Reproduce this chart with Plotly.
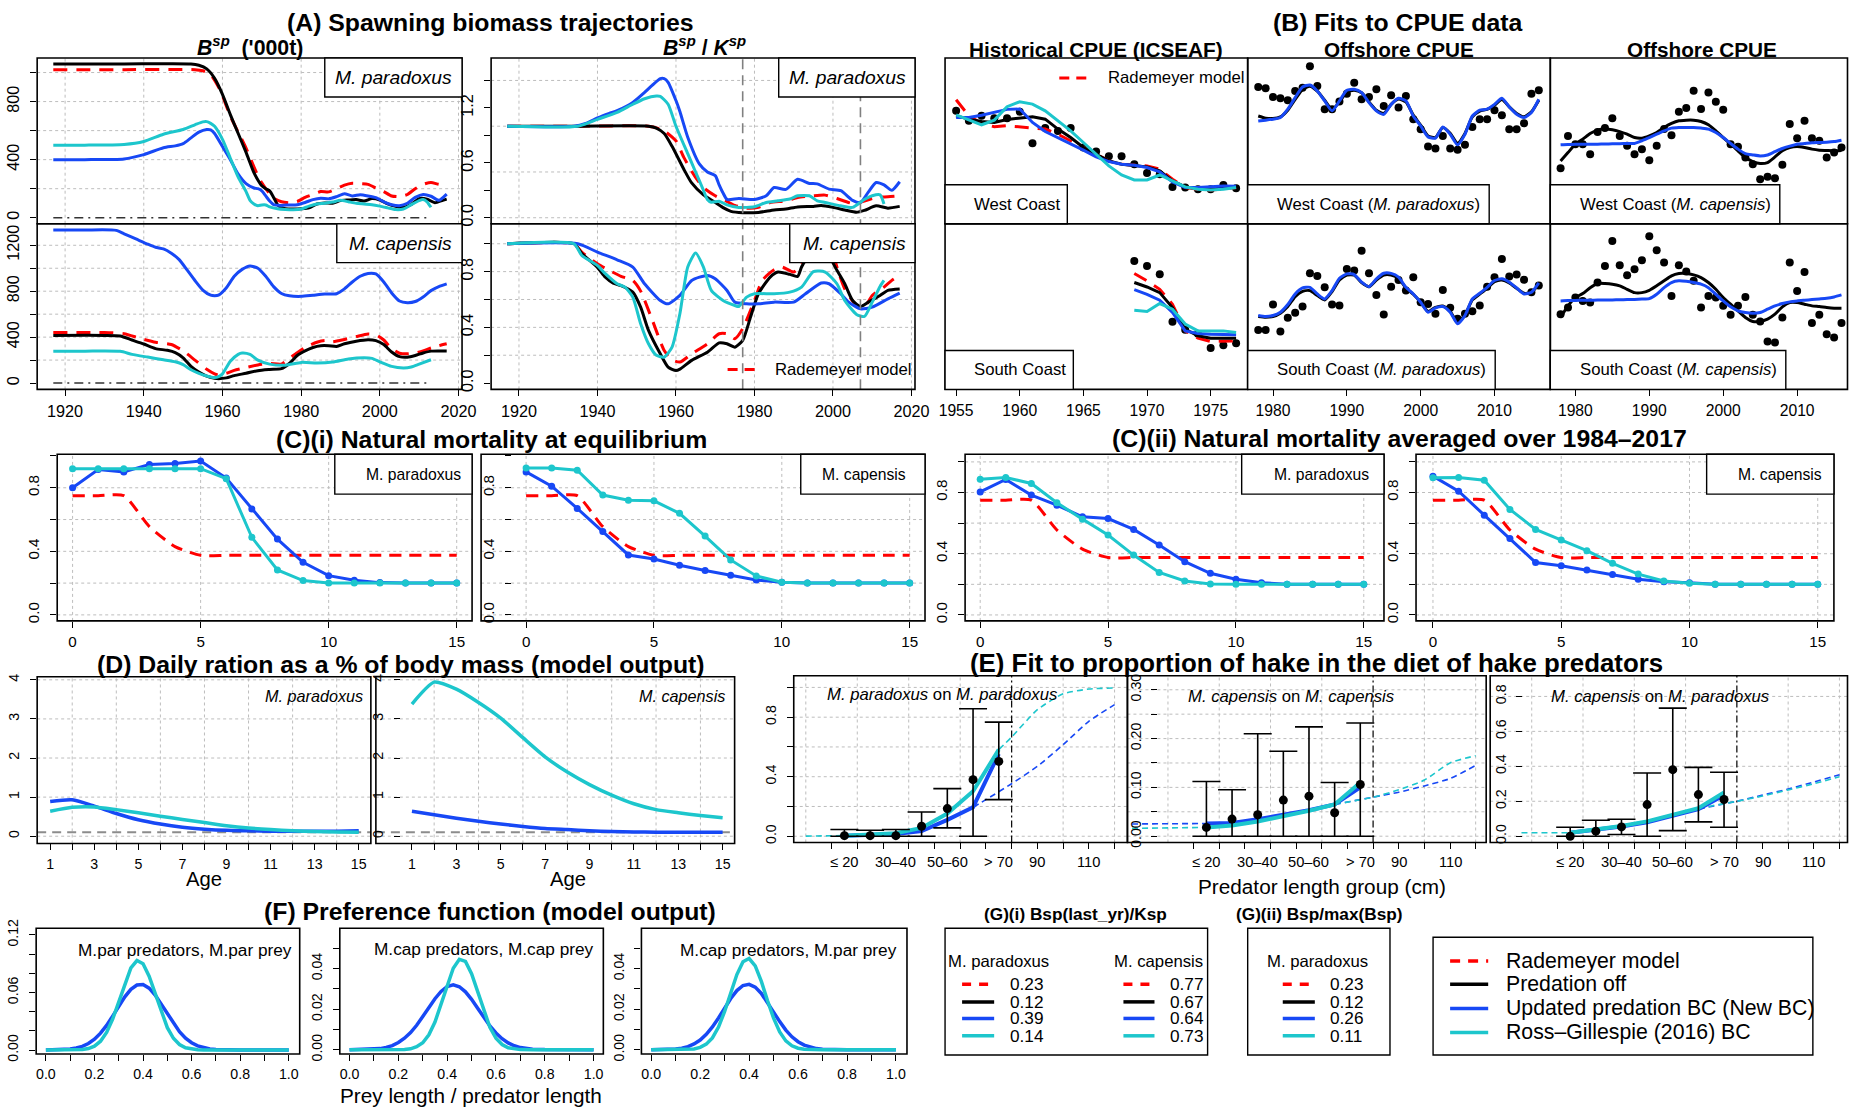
import plotly.graph_objects as go

# Layout positions in this file are given in target-image pixels (1854 x 1111).  The page adds a
# body margin and is captured at a slight scale, so positions are mapped through these factors.
W, H = 1854, 1111
PAGE_MARGIN = 8
SX, SY = 0.9872, 0.9866
FW, FH = 1862, 1110
RED, BLACK, BLUE, CYAN = "#FF0000", "#000000", "#1748F5", "#1DC6CC"
GRID = "#BDBDBD"
FONT = "Liberation Sans, Arial, sans-serif"

# ---------------- (A) spawning biomass, '000 t  (year, value) ----------------
PAR_BSP_RED = [(1917, 1020), (1935, 1020), (1953, 1020), (1955, 1012), (1957, 985), (1959, 900), (1960, 840),
               (1962, 700), (1964, 590), (1966, 480), (1968, 350), (1969, 290), (1970, 240), (1971, 200),
               (1972, 165), (1973, 135), (1975, 110), (1977, 103), (1979, 112), (1981, 140), (1983, 160),
               (1985, 180), (1987, 178), (1989, 200), (1991, 225), (1993, 238), (1995, 235), (1997, 230),
               (1999, 205), (2001, 180), (2003, 150), (2005, 145), (2007, 160), (2009, 200), (2011, 230),
               (2013, 243), (2015, 230), (2017, 225)]
PAR_BSP_BLACK = [(1917, 1059), (1935, 1059), (1952, 1059), (1954, 1050), (1956, 1025), (1958, 960), (1960, 850),
                 (1962, 710), (1964, 580), (1966, 450), (1968, 310), (1969, 260), (1970, 220), (1971, 200),
                 (1972, 185), (1973, 140), (1974, 90), (1975, 70), (1976, 62), (1978, 60), (1980, 62), (1982, 68),
                 (1984, 95), (1986, 102), (1988, 100), (1990, 118), (1992, 122), (1994, 125), (1996, 115),
                 (1998, 132), (2000, 122), (2002, 95), (2004, 78), (2006, 70), (2008, 92), (2010, 132),
                 (2012, 128), (2014, 103), (2016, 120), (2017, 128)]
PAR_BSP_BLUE = [(1917, 400), (1925, 400), (1935, 405), (1940, 435), (1945, 482), (1948, 495), (1950, 510),
                (1952, 550), (1954, 590), (1956, 608), (1957, 605), (1958, 580), (1960, 490), (1962, 400),
                (1964, 300), (1966, 235), (1968, 205), (1969, 200), (1970, 185), (1971, 150), (1972, 115),
                (1973, 90), (1975, 85), (1977, 88), (1979, 90), (1981, 105), (1983, 125), (1985, 135),
                (1987, 130), (1989, 145), (1991, 165), (1993, 150), (1995, 158), (1997, 150), (1999, 138),
                (2001, 110), (2003, 90), (2005, 83), (2007, 100), (2009, 140), (2011, 160), (2013, 148),
                (2015, 120), (2017, 163)]
PAR_BSP_CYAN = [(1917, 500), (1925, 500), (1935, 505), (1940, 525), (1945, 575), (1950, 608), (1953, 640),
                (1955, 660), (1956, 662), (1957, 650), (1958, 630), (1960, 540), (1962, 410), (1964, 280),
                (1966, 180), (1967, 120), (1968, 95), (1969, 83), (1970, 88), (1971, 88), (1972, 75),
                (1974, 62), (1976, 57), (1978, 55), (1980, 60), (1982, 80), (1984, 95), (1986, 100),
                (1988, 108), (1990, 120), (1992, 110), (1994, 100), (1996, 95), (1998, 90), (2000, 80),
                (2002, 68), (2004, 56), (2006, 60), (2008, 90), (2010, 118), (2011, 125), (2012, 110),
                (2013, 72)]
CAP_BSP_RED = [(1917, 440), (1930, 440), (1935, 430), (1939, 390), (1943, 355), (1947, 336), (1950, 280),
               (1953, 200), (1956, 120), (1958, 80), (1959, 70), (1961, 85), (1963, 110), (1966, 135),
               (1969, 158), (1972, 170), (1975, 165), (1977, 215), (1979, 265), (1981, 310), (1984, 355),
               (1986, 370), (1988, 360), (1991, 380), (1994, 405), (1997, 428), (1999, 420), (2001, 375),
               (2003, 300), (2005, 260), (2007, 255), (2009, 262), (2011, 280), (2013, 305), (2015, 325),
               (2017, 342)]
CAP_BSP_BLACK = [(1917, 415), (1930, 415), (1934, 410), (1937, 375), (1940, 340), (1943, 300), (1946, 285),
                 (1948, 265), (1950, 220), (1952, 145), (1954, 95), (1956, 60), (1958, 42), (1959, 38),
                 (1961, 45), (1963, 65), (1966, 85), (1969, 108), (1972, 118), (1975, 125), (1977, 170),
                 (1979, 240), (1981, 280), (1983, 310), (1985, 325), (1987, 325), (1989, 318), (1991, 342),
                 (1994, 365), (1997, 378), (1999, 370), (2001, 335), (2003, 270), (2005, 230), (2007, 225),
                 (2009, 240), (2011, 262), (2013, 278), (2015, 280), (2017, 280)]
CAP_BSP_BLUE = [(1917, 1333), (1925, 1333), (1933, 1330), (1935, 1300), (1938, 1255), (1941, 1210),
                (1943, 1183), (1945, 1168), (1947, 1130), (1949, 1075), (1951, 985), (1953, 893), (1955, 810),
                (1957, 765), (1958, 760), (1959, 765), (1961, 830), (1963, 930), (1965, 990), (1967, 1020),
                (1969, 1000), (1971, 930), (1973, 840), (1975, 780), (1977, 760), (1980, 755), (1983, 765),
                (1986, 775), (1989, 778), (1991, 820), (1993, 880), (1995, 930), (1997, 955), (1999, 950),
                (2001, 880), (2003, 785), (2005, 715), (2007, 700), (2009, 710), (2011, 750), (2013, 805),
                (2015, 840), (2017, 864)]
CAP_BSP_CYAN = [(1917, 278), (1925, 278), (1934, 276), (1937, 250), (1941, 226), (1945, 203), (1948, 185),
                (1950, 160), (1952, 116), (1954, 85), (1956, 62), (1958, 48), (1959, 55), (1960, 80),
                (1962, 190), (1964, 250), (1965, 262), (1967, 250), (1969, 200), (1972, 165), (1976, 155),
                (1980, 180), (1984, 175), (1988, 183), (1992, 210), (1996, 220), (1998, 215), (2000, 185),
                (2003, 145), (2006, 132), (2008, 140), (2010, 165), (2013, 203)]
ZERO_LINE_YEARS = [1917, 2013]

# ---------------- (A) Bsp / Ksp ----------------
PAR_DEP_RED = [(1917, 1.0), (1935, 1.0), (1953, 1.0), (1956, 0.97), (1957, 0.95), (1960, 0.84), (1962, 0.66),
               (1965, 0.44), (1967, 0.33), (1970, 0.24), (1972, 0.2), (1975, 0.135), (1978, 0.105),
               (1981, 0.113), (1984, 0.165), (1988, 0.185), (1991, 0.22), (1995, 0.24), (1998, 0.247),
               (2001, 0.21), (2005, 0.156), (2007, 0.17), (2011, 0.222), (2014, 0.229), (2017, 0.24)]
PAR_DEP_BLACK = [(1917, 1.0), (1935, 1.0), (1953, 1.0), (1955, 0.98), (1957, 0.92), (1959, 0.78), (1962, 0.53),
                 (1964, 0.38), (1967, 0.25), (1969, 0.195), (1972, 0.11), (1974, 0.07), (1977, 0.055),
                 (1981, 0.058), (1985, 0.085), (1988, 0.095), (1991, 0.118), (1995, 0.124), (1997, 0.133),
                 (2000, 0.113), (2003, 0.085), (2006, 0.06), (2008, 0.08), (2011, 0.13), (2014, 0.105),
                 (2017, 0.124)]
PAR_DEP_BLUE = [(1917, 1.0), (1934, 1.0), (1937, 1.03), (1940, 1.09), (1943, 1.14), (1945, 1.17), (1949, 1.26),
                (1952, 1.37), (1954, 1.45), (1956, 1.52), (1957, 1.52), (1958, 1.48), (1960, 1.28),
                (1961, 1.16), (1963, 0.88), (1966, 0.585), (1968, 0.5), (1970, 0.46), (1971, 0.36),
                (1972, 0.27), (1973, 0.2), (1976, 0.21), (1980, 0.2), (1983, 0.24), (1985, 0.33), (1988, 0.31),
                (1991, 0.42), (1994, 0.375), (1996, 0.37), (1999, 0.313), (2002, 0.295), (2005, 0.19),
                (2007, 0.165), (2009, 0.28), (2011, 0.385), (2013, 0.36), (2015, 0.3), (2017, 0.393)]
PAR_DEP_CYAN = [(1917, 1.0), (1935, 1.0), (1940, 1.075), (1945, 1.15), (1949, 1.24), (1952, 1.3), (1955, 1.33),
                (1956, 1.325), (1958, 1.24), (1960, 1.0), (1963, 0.7), (1965, 0.5), (1967, 0.3), (1968, 0.2),
                (1969, 0.17), (1971, 0.18), (1973, 0.14), (1976, 0.113), (1980, 0.12), (1983, 0.167),
                (1986, 0.185), (1989, 0.205), (1991, 0.24), (1994, 0.24), (1996, 0.185), (1998, 0.167),
                (2002, 0.13), (2005, 0.113), (2008, 0.2), (2010, 0.24), (2012, 0.25), (2013, 0.15)]
CAP_DEP_RED = [(1917, 1.0), (1934, 1.0), (1936, 0.94), (1940, 0.856), (1943, 0.809), (1946, 0.766),
               (1949, 0.737), (1951, 0.66), (1954, 0.45), (1957, 0.234), (1959, 0.167), (1961, 0.151),
               (1964, 0.21), (1968, 0.282), (1971, 0.354), (1973, 0.354), (1975, 0.318), (1977, 0.39),
               (1980, 0.593), (1982, 0.737), (1985, 0.813), (1987, 0.833), (1990, 0.797), (1992, 0.856),
               (1994, 0.95), (1996, 1.06), (1998, 1.1), (2000, 0.95), (2001, 0.833), (2003, 0.677),
               (2006, 0.557), (2008, 0.545), (2010, 0.629), (2013, 0.689), (2015, 0.737), (2017, 0.773)]
CAP_DEP_BLACK = [(1917, 1.0), (1934, 1.0), (1936, 0.93), (1940, 0.83), (1942, 0.76), (1944, 0.718), (1946, 0.7),
                 (1949, 0.653), (1951, 0.545), (1953, 0.378), (1956, 0.21), (1958, 0.115), (1960, 0.09),
                 (1961, 0.1), (1964, 0.163), (1968, 0.222), (1971, 0.289), (1973, 0.282), (1975, 0.258),
                 (1977, 0.306), (1979, 0.474), (1981, 0.641), (1984, 0.761), (1986, 0.797), (1989, 0.78),
                 (1991, 0.766), (1992, 0.833), (1994, 0.93), (1996, 1.04), (1998, 1.08), (1999, 0.98),
                 (2000, 0.864), (2003, 0.713), (2005, 0.593), (2007, 0.55), (2009, 0.581), (2012, 0.629),
                 (2014, 0.665), (2017, 0.675)]
CAP_DEP_BLUE = [(1917, 1.0), (1935, 1.0), (1940, 0.94), (1945, 0.885), (1949, 0.833), (1952, 0.713),
                (1956, 0.593), (1958, 0.569), (1961, 0.629), (1964, 0.737), (1968, 0.773), (1970, 0.749),
                (1973, 0.665), (1975, 0.581), (1978, 0.569), (1981, 0.569), (1985, 0.581), (1990, 0.581),
                (1993, 0.641), (1997, 0.718), (1999, 0.713), (2002, 0.641), (2004, 0.581), (2007, 0.533),
                (2010, 0.545), (2014, 0.605), (2017, 0.646)]
CAP_DEP_CYAN = [(1917, 1.0), (1934, 1.0), (1936, 0.916), (1940, 0.844), (1942, 0.785), (1945, 0.713),
                (1947, 0.689), (1949, 0.617), (1951, 0.426), (1953, 0.282), (1955, 0.199), (1957, 0.187),
                (1959, 0.258), (1961, 0.498), (1963, 0.833), (1965, 0.933), (1967, 0.833), (1969, 0.665),
                (1972, 0.593), (1975, 0.557), (1976, 0.55), (1978, 0.617), (1980, 0.641), (1985, 0.641),
                (1989, 0.653), (1992, 0.689), (1995, 0.8), (1998, 0.797), (2001, 0.713), (2003, 0.593),
                (2006, 0.493), (2008, 0.478), (2010, 0.581), (2012, 0.694), (2013, 0.737)]
DEP_MARK_YEARS = [1977, 2007]

# ---------------- (B) CPUE indices (relative scale) ----------------
HIST_WC_YEARS = [1955, 1956, 1957, 1958, 1959, 1960, 1961, 1962, 1963, 1964, 1965, 1966, 1967, 1968, 1969,
                 1970, 1971, 1972, 1973, 1974, 1975, 1976, 1977]
HIST_WC_OBS = [0.681, 0.621, 0.651, 0.637, 0.637, 0.675, 0.486, 0.577, 0.56, 0.577, 0.46, 0.435, 0.407,
               0.407, 0.359, 0.306, 0.298, 0.222, 0.218, 0.208, 0.208, 0.234, 0.214]
HIST_WC_RED = [0.748, 0.651, 0.605, 0.585, 0.591, 0.585, 0.581, 0.571, 0.54, 0.5, 0.46, 0.415, 0.379, 0.359,
               0.355, 0.349, 0.329, 0.268, 0.218, 0.208, 0.204, 0.208, 0.218]
HIST_WC_BLACK = [0.651, 0.631, 0.617, 0.611, 0.629, 0.637, 0.645, 0.631, 0.571, 0.52, 0.46, 0.419, 0.379,
                 0.359, 0.349, 0.343, 0.319, 0.258, 0.222, 0.212, 0.214, 0.214, 0.222]
HIST_WC_BLUE = [0.641, 0.641, 0.655, 0.671, 0.69, 0.692, 0.611, 0.556, 0.52, 0.484, 0.444, 0.403, 0.375,
                0.359, 0.353, 0.339, 0.313, 0.252, 0.218, 0.218, 0.224, 0.228, 0.226]
HIST_WC_CYAN = [0.657, 0.625, 0.597, 0.625, 0.706, 0.736, 0.722, 0.681, 0.621, 0.56, 0.49, 0.419, 0.349,
                0.294, 0.264, 0.264, 0.294, 0.258, 0.222, 0.208, 0.204, 0.208, 0.218]
HIST_SC_YEARS = [1969, 1970, 1971, 1972, 1973, 1974, 1975, 1976, 1977]
HIST_SC_OBS = [0.775, 0.745, 0.695, 0.408, 0.36, 0.335, 0.249, 0.267, 0.279]
HIST_SC_RED = [0.699, 0.655, 0.604, 0.514, 0.353, 0.309, 0.289, 0.289, 0.293]
HIST_SC_BLACK = [0.645, 0.618, 0.584, 0.494, 0.363, 0.323, 0.309, 0.309, 0.309]
HIST_SC_BLUE = [0.602, 0.574, 0.538, 0.464, 0.353, 0.337, 0.333, 0.333, 0.329]
HIST_SC_CYAN = [0.478, 0.47, 0.518, 0.484, 0.394, 0.353, 0.353, 0.353, 0.343]

OFF_YEARS = [1978, 1979, 1980, 1981, 1982, 1983, 1984, 1985, 1986, 1987, 1988, 1989, 1990, 1991, 1992, 1993,
             1994, 1995, 1996, 1997, 1998, 1999, 2000, 2001, 2002, 2003, 2004, 2005, 2006, 2007, 2008, 2009,
             2010, 2011, 2012, 2013, 2014, 2015, 2016]
WC_PAR_OBS = [0.825, 0.817, 0.765, 0.757, 0.745, 0.801, 0.821, 0.95, 0.831, 0.691, 0.691, 0.737, 0.785, 0.851,
              0.751, 0.765, 0.811, 0.711, 0.775, 0.701, 0.771, 0.631, 0.57, 0.466, 0.454, 0.53, 0.454, 0.446,
              0.476, 0.584, 0.631, 0.631, 0.685, 0.655, 0.57, 0.57, 0.606, 0.785, 0.805]
WC_PAR_BLACK = [0.65, 0.637, 0.635, 0.645, 0.685, 0.75, 0.81, 0.83, 0.8, 0.745, 0.69, 0.735, 0.795, 0.805,
                0.79, 0.735, 0.685, 0.665, 0.72, 0.752, 0.735, 0.655, 0.595, 0.53, 0.52, 0.58, 0.545, 0.485,
                0.545, 0.645, 0.68, 0.69, 0.715, 0.75, 0.705, 0.665, 0.645, 0.675, 0.745]
WC_PAR_BLUE = [0.62, 0.625, 0.631, 0.641, 0.691, 0.761, 0.825, 0.837, 0.801, 0.741, 0.681, 0.741, 0.805, 0.811,
               0.791, 0.731, 0.681, 0.66, 0.72, 0.757, 0.741, 0.65, 0.59, 0.524, 0.516, 0.584, 0.54, 0.476,
               0.54, 0.65, 0.685, 0.691, 0.72, 0.757, 0.705, 0.66, 0.641, 0.671, 0.751]
SC_PAR_OBS = [0.359, 0.359, 0.512, 0.349, 0.432, 0.462, 0.5, 0.701, 0.685, 0.616, 0.512, 0.506, 0.727, 0.717,
              0.837, 0.701, 0.57, 0.452, 0.62, 0.66, 0.596, 0.677, 0.526, 0.516, 0.456, 0.6, 0.492, 0.426,
              0.456, 0.472, 0.506, 0.62, 0.677, 0.787, 0.681, 0.693, 0.661, 0.586, 0.627]
SC_PAR_BLACK = [0.44, 0.436, 0.44, 0.46, 0.5, 0.56, 0.592, 0.596, 0.566, 0.54, 0.59, 0.66, 0.69, 0.69, 0.645,
                0.62, 0.66, 0.69, 0.69, 0.67, 0.612, 0.574, 0.526, 0.47, 0.495, 0.503, 0.47, 0.405, 0.45, 0.54,
                0.575, 0.61, 0.65, 0.66, 0.643, 0.61, 0.58, 0.585, 0.635]
SC_PAR_BLUE = [0.446, 0.44, 0.446, 0.466, 0.512, 0.576, 0.612, 0.616, 0.576, 0.546, 0.596, 0.671, 0.697, 0.693,
               0.647, 0.62, 0.667, 0.701, 0.7, 0.677, 0.616, 0.576, 0.526, 0.466, 0.492, 0.5, 0.466, 0.396,
               0.446, 0.546, 0.58, 0.616, 0.657, 0.667, 0.647, 0.612, 0.576, 0.586, 0.643]
WC_CAP_OBS = [0.335, 0.53, 0.48, 0.48, 0.419, 0.554, 0.577, 0.637, 0.53, 0.47, 0.419, 0.45, 0.383, 0.47, 0.571,
              0.534, 0.675, 0.698, 0.802, 0.692, 0.792, 0.736, 0.688, 0.48, 0.464, 0.399, 0.359, 0.268, 0.284,
              0.274, 0.355, 0.601, 0.516, 0.621, 0.516, 0.5, 0.399, 0.429, 0.46]
WC_CAP_BLACK = [0.379, 0.429, 0.48, 0.51, 0.544, 0.565, 0.571, 0.567, 0.556, 0.54, 0.52, 0.516, 0.53, 0.55,
                0.581, 0.605, 0.621, 0.625, 0.625, 0.617, 0.597, 0.56, 0.52, 0.48, 0.44, 0.399, 0.375, 0.363,
                0.369, 0.403, 0.44, 0.46, 0.466, 0.46, 0.45, 0.444, 0.442, 0.44, 0.442]
WC_CAP_BLUE = [0.476, 0.478, 0.479, 0.48, 0.48, 0.48, 0.481, 0.482, 0.483, 0.484, 0.484, 0.5, 0.52, 0.54, 0.56,
               0.577, 0.581, 0.581, 0.581, 0.577, 0.571, 0.55, 0.52, 0.484, 0.45, 0.423, 0.415, 0.409, 0.415,
               0.435, 0.454, 0.468, 0.48, 0.484, 0.488, 0.49, 0.492, 0.496, 0.504]
SC_CAP_OBS = [0.454, 0.494, 0.554, 0.534, 0.524, 0.645, 0.745, 0.896, 0.749, 0.689, 0.725, 0.779, 0.924, 0.839,
              0.765, 0.564, 0.749, 0.711, 0.655, 0.494, 0.564, 0.554, 0.504, 0.45, 0.504, 0.558, 0.45, 0.41,
              0.289, 0.283, 0.434, 0.765, 0.594, 0.709, 0.4, 0.45, 0.333, 0.313, 0.4]
SC_CAP_BLACK = [0.434, 0.504, 0.554, 0.578, 0.614, 0.639, 0.639, 0.635, 0.625, 0.604, 0.584, 0.584, 0.598,
                0.625, 0.655, 0.685, 0.699, 0.699, 0.691, 0.675, 0.645, 0.604, 0.554, 0.514, 0.474, 0.434,
                0.41, 0.41, 0.424, 0.454, 0.498, 0.524, 0.524, 0.514, 0.504, 0.5, 0.494, 0.49, 0.49]
SC_CAP_BLUE = [0.534, 0.536, 0.537, 0.538, 0.538, 0.539, 0.54, 0.54, 0.541, 0.542, 0.543, 0.545, 0.548, 0.574,
               0.614, 0.645, 0.655, 0.652, 0.645, 0.635, 0.614, 0.574, 0.534, 0.498, 0.474, 0.464, 0.46, 0.464,
               0.484, 0.504, 0.518, 0.528, 0.534, 0.538, 0.542, 0.546, 0.55, 0.558, 0.57]

# ---------------- (C) natural mortality at age ----------------
M_AGES = [0, 1, 2, 3, 4, 5, 6, 7, 8, 9, 10, 11, 12, 13, 14, 15]
M_RADEMEYER = [0.75, 0.75, 0.75, 0.555, 0.43, 0.375, 0.375, 0.375, 0.375, 0.375, 0.375, 0.375, 0.375, 0.375,
               0.375, 0.375]
MEQ_PAR_BLUE = [0.8, 0.915, 0.9, 0.947, 0.953, 0.968, 0.861, 0.666, 0.477, 0.331, 0.247, 0.218, 0.203, 0.2, 0.2, 0.2]
MEQ_PAR_CYAN = [0.92, 0.92, 0.92, 0.92, 0.92, 0.92, 0.857, 0.488, 0.283, 0.216, 0.2, 0.2, 0.2, 0.2, 0.2, 0.2]
MEQ_CAP_BLUE = [0.9, 0.81, 0.67, 0.524, 0.377, 0.352, 0.312, 0.279, 0.249, 0.22, 0.205, 0.2, 0.2, 0.2, 0.2, 0.2]
MEQ_CAP_CYAN = [0.925, 0.925, 0.91, 0.754, 0.722, 0.718, 0.639, 0.496, 0.346, 0.245, 0.205, 0.2, 0.2, 0.2, 0.2, 0.2]
MAV_PAR_BLUE = [0.804, 0.885, 0.783, 0.717, 0.641, 0.63, 0.559, 0.457, 0.348, 0.272, 0.233, 0.211, 0.2, 0.2, 0.2, 0.2]
MAV_PAR_CYAN = [0.887, 0.898, 0.859, 0.733, 0.626, 0.522, 0.391, 0.278, 0.222, 0.202, 0.2, 0.2, 0.2, 0.2, 0.2, 0.2]
MAV_CAP_BLUE = [0.907, 0.809, 0.652, 0.5, 0.343, 0.322, 0.293, 0.265, 0.233, 0.217, 0.211, 0.2, 0.2, 0.2, 0.2, 0.2]
MAV_CAP_CYAN = [0.896, 0.898, 0.88, 0.689, 0.559, 0.489, 0.42, 0.337, 0.267, 0.222, 0.207, 0.2, 0.2, 0.2, 0.2, 0.2]

# ---------------- (D) daily ration, % body mass ----------------
RATION_AGES = [1, 2, 3, 4, 5, 6, 7, 8, 9, 10, 11, 12, 13, 14, 15]
RATION_PAR_BLUE = [0.89, 0.93, 0.77, 0.58, 0.42, 0.31, 0.23, 0.18, 0.15, 0.14, 0.13, 0.13, 0.13, 0.13, 0.14]
RATION_PAR_CYAN = [0.64, 0.74, 0.75, 0.68, 0.6, 0.51, 0.43, 0.35, 0.27, 0.21, 0.17, 0.14, 0.12, 0.11, 0.1]
RATION_CAP_BLUE = [0.64, 0.55, 0.46, 0.38, 0.31, 0.25, 0.2, 0.17, 0.14, 0.12, 0.11, 0.1, 0.1, 0.1, 0.1]
RATION_CAP_CYAN = [3.38, 3.94, 3.76, 3.42, 3.02, 2.52, 2.03, 1.64, 1.32, 1.05, 0.83, 0.68, 0.6, 0.53, 0.47]
RATION_REF = 0.1

# ---------------- (E) proportion of hake in diet ----------------
LEN_GROUP_MID = [15, 25, 35, 45, 55, 65, 75]
LEN_TICKS = [10, 20, 30, 40, 50, 60, 70, 80, 90, 100, 110, 120]
LEN_LABEL_POS = [15, 35, 55, 75, 90, 110]
LEN_LABELS = ["≤ 20", "30–40", "50–60", "> 70", "90", "110"]
LEN_CUTOFF = 80
E1_OBS = [0.004, 0.004, 0.004, 0.067, 0.186, 0.38, 0.503]
E1_LO = [0.0, 0.0, 0.0, 0.0, 0.056, 0.0, 0.246]
E1_HI = [0.045, 0.04, 0.045, 0.163, 0.32, 0.857, 0.767]
E1_BLUE = [0.004, 0.008, 0.015, 0.035, 0.11, 0.195, 0.553]
E1_CYAN = [0.004, 0.011, 0.02, 0.056, 0.152, 0.302, 0.582]
E1_PRE_X = [0, 5, 10, 15]
E1_PRE = [0.001, 0.002, 0.003, 0.004]
E1_BLUE_POST_X = [65, 70, 80, 90, 100, 110, 120]
E1_BLUE_POST = [0.195, 0.246, 0.353, 0.47, 0.615, 0.772, 0.884]
E1_CYAN_POST_X = [75, 80, 90, 100, 110, 120]
E1_CYAN_POST = [0.582, 0.667, 0.85, 0.957, 0.989, 0.996]

E2_OBS = [0.018, 0.035, 0.044, 0.074, 0.082, 0.048, 0.106]
E2_LO = [0.0, 0.0, 0.0, 0.0, 0.0, 0.0, 0.0]
E2_HI = [0.112, 0.095, 0.21, 0.174, 0.224, 0.11, 0.232]
E2_BLUE = [0.026, 0.027, 0.035, 0.043, 0.053, 0.065, 0.1]
E2_CYAN = [0.018, 0.022, 0.03, 0.04, 0.052, 0.065, 0.11]
E2_PRE_X = [-14, 15]
E2_BLUE_PRE = [0.025, 0.026]
E2_CYAN_PRE = [0.016, 0.018]
E2_POST_X = [65, 80, 90, 100, 110, 120]
E2_BLUE_POST = [0.065, 0.08, 0.09, 0.103, 0.118, 0.145]
E2_CYAN_POST = [0.065, 0.08, 0.095, 0.115, 0.15, 0.165]

E3_OBS = [0.0, 0.029, 0.053, 0.181, 0.381, 0.238, 0.21]
E3_LO = [0.0, 0.0, 0.01, 0.0, 0.032, 0.082, 0.051]
E3_HI = [0.051, 0.091, 0.097, 0.362, 0.733, 0.394, 0.366]
E3_BLUE = [0.02, 0.035, 0.055, 0.08, 0.115, 0.155, 0.235]
E3_CYAN = [0.02, 0.037, 0.058, 0.085, 0.12, 0.16, 0.25]
E3_PRE_X = [-4, 15]
E3_PRE = [0.02, 0.02]
E3_POST_X = [65, 80, 90, 100, 110, 120]
E3_BLUE_POST = [0.155, 0.2, 0.235, 0.27, 0.31, 0.352]
E3_CYAN_POST = [0.16, 0.2, 0.23, 0.265, 0.3, 0.34]

# ---------------- (F) preference function ----------------
PREF_X = [0.0, 0.05, 0.1, 0.125, 0.15, 0.175, 0.2, 0.225, 0.25, 0.275, 0.3, 0.325, 0.35, 0.375, 0.4, 0.425,
          0.45, 0.475, 0.5, 0.525, 0.55, 0.575, 0.6, 0.625, 0.65, 0.675, 0.7, 0.75, 0.8, 0.9, 1.0]
PREF1_CYAN = [0, 0, 0.0, 0.0002, 0.0006, 0.0016, 0.0041, 0.0092, 0.0183, 0.0323, 0.0504, 0.0698, 0.0857,
              0.0933, 0.09, 0.0769, 0.0583, 0.0392, 0.0233, 0.0123, 0.0058, 0.0024, 0.0009, 0.0003, 0.0001,
              0, 0, 0, 0, 0, 0]
PREF1_BLUE = [0.0, 0.0002, 0.001, 0.0021, 0.0038, 0.0068, 0.0113, 0.0176, 0.0257, 0.0354, 0.0458, 0.0555,
              0.0633, 0.0678, 0.0683, 0.0645, 0.0573, 0.0478, 0.0375, 0.0276, 0.0191, 0.0124, 0.0076, 0.0043,
              0.0023, 0.0012, 0.0006, 0.0001, 0, 0, 0]
PREF2_CYAN = [0, 0, 0, 0, 0, 0, 0.0001, 0.0002, 0.0005, 0.0015, 0.0035, 0.0074, 0.0137, 0.0222, 0.0319,
              0.0402, 0.0446, 0.0436, 0.0375, 0.0284, 0.0189, 0.0111, 0.0057, 0.0026, 0.001, 0.0004, 0.0001,
              0, 0, 0, 0]
PREF2_BLUE = [0, 0.0001, 0.0003, 0.0006, 0.0012, 0.0021, 0.0036, 0.0057, 0.0085, 0.0121, 0.0164, 0.0209,
              0.0252, 0.0288, 0.0312, 0.032, 0.0311, 0.0286, 0.0249, 0.0205, 0.016, 0.0118, 0.0083, 0.0055,
              0.0034, 0.002, 0.0011, 0.0003, 0.0001, 0, 0]
PREF3_CYAN = [0, 0, 0, 0, 0.0001, 0.0004, 0.0012, 0.0028, 0.0059, 0.0112, 0.0189, 0.0281, 0.0371, 0.0434,
              0.045, 0.0414, 0.0337, 0.0243, 0.0156, 0.0088, 0.0044, 0.002, 0.0008, 0.0003, 0.0001, 0, 0, 0,
              0, 0, 0]
PREF3_BLUE = [0, 0.0001, 0.0004, 0.0008, 0.0016, 0.0029, 0.0048, 0.0076, 0.0113, 0.0157, 0.0206, 0.0253,
              0.0292, 0.0317, 0.0323, 0.0309, 0.0278, 0.0235, 0.0186, 0.0139, 0.0097, 0.0064, 0.004, 0.0023,
              0.0013, 0.0006, 0.0003, 0.0001, 0, 0, 0]

# ---------------- (G) summary tables and legend ----------------
G1_PAR = ["0.23", "0.12", "0.39", "0.14"]
G1_CAP = ["0.77", "0.67", "0.64", "0.73"]
G2_PAR = ["0.23", "0.12", "0.26", "0.11"]
MODEL_NAMES = ["Rademeyer model", "Predation off", "Updated predation BC (New BC)", "Ross–Gillespie (2016) BC"]
MODEL_COLORS = [RED, BLACK, BLUE, CYAN]
MODEL_DASH = ["9px,8px", None, None, None]

YEAR_TICKS_A = [1920, 1940, 1960, 1980, 2000, 2020]
YEAR_TICKS_HIST = [1955, 1960, 1965, 1970, 1975]
YEAR_TICKS_OFF = [1980, 1990, 2000, 2010]

TITLE = 24.5     # row titles
SUBTITLE = 20.5  # column titles in A and B


# ---------------- helpers ----------------
def px(x):
    return (x / SX - PAGE_MARGIN) / FW


def py(y):
    return 1 - (y / SY - PAGE_MARGIN) / FH


def fs(size):
    return size / SX


RIGHT_LIMIT = (PAGE_MARGIN + FW) * SX - 0.5

fig = go.Figure()
axes_layout = {}
below_shapes, frame_shapes, top_shapes = [], [], []
annotations = []
_n = [0]


def labels(vals, every=1, fmt="{}"):
    return [fmt.format(v) if i % every == 0 else "" for i, v in enumerate(vals)]


def panel(box, xr, yr, xticks=None, yticks=None, y_at=None, size=14, xgrid=(), ygrid=(), ystand=5):
    _n[0] += 1
    s = "" if _n[0] == 1 else str(_n[0])
    x0, x1, y0, y1 = box
    frame = dict(type="rect", xref="paper", yref="paper", x0=px(x0), x1=px(x1), y0=py(y1), y1=py(y0),
                 line=dict(color="black", width=1.6), layer="above")
    # keep the plotting area inside the figure, trimming the axis range to match
    if x1 > RIGHT_LIMIT:
        xr = (xr[0], xr[0] + (xr[1] - xr[0]) * (RIGHT_LIMIT - x0) / (x1 - x0))
        x1 = RIGHT_LIMIT
        frame["x1"] = px(x1)
    base = dict(showgrid=False, zeroline=False, showline=False, ticks="", showticklabels=False, fixedrange=True)
    xa = dict(base, domain=[px(x0), px(x1)], range=list(xr), anchor="y" + s)
    ya = dict(base, domain=[py(y1), py(y0)], range=list(yr), anchor="x" + s)
    tick_style = dict(ticks="outside", ticklen=6, tickwidth=1.2, tickcolor="black",
                      tickfont=dict(size=fs(size), color="black", family=FONT))
    if xticks is not None:
        has_text = any(t for t in xticks[1])
        xa.update(tick_style, tickmode="array", tickvals=xticks[0], showticklabels=has_text)
        if has_text:
            xa.update(ticktext=xticks[1], ticklabelstandoff=1)
    else:
        xa["visible"] = False
    if yticks is not None:
        ya.update(tick_style, tickmode="array", tickvals=yticks[0], ticktext=yticks[1],
                  showticklabels=True, tickangle=-90, ticklabelstandoff=ystand)
    else:
        ya["visible"] = False
    if y_at is not None:
        ya.update(anchor="free", position=px(y_at))
    axes_layout["xaxis" + s] = xa
    axes_layout["yaxis" + s] = ya
    gl = dict(color=GRID, width=1, dash="dot")
    for v in xgrid:
        below_shapes.append(dict(type="line", xref="x" + s, yref="y" + s + " domain", x0=v, x1=v, y0=0, y1=1,
                                 line=gl, layer="below"))
    for v in ygrid:
        below_shapes.append(dict(type="line", xref="x" + s + " domain", yref="y" + s, x0=0, x1=1, y0=v, y1=v,
                                 line=gl, layer="below"))
    frame_shapes.append(frame)
    return ("x" + s, "y" + s)


def trace(ax, x, y, color, width=3.0, dash=None, smooth=False, mode="lines", msize=7):
    line = dict(color=color, width=width)
    if dash:
        line["dash"] = dash
    if smooth:
        line.update(shape="spline", smoothing=0.6)
    kw = dict(x=x, y=y, xaxis=ax[0], yaxis=ax[1], mode=mode, line=line, showlegend=False, hoverinfo="skip")
    if "markers" in mode:
        kw["marker"] = dict(color=color, size=msize)
    fig.add_trace(go.Scatter(**kw))


def series(ax, pairs, color, **kw):
    trace(ax, [p[0] for p in pairs], [p[1] for p in pairs], color, **kw)


def points(ax, x, y, size=8):
    fig.add_trace(go.Scatter(x=x, y=y, xaxis=ax[0], yaxis=ax[1], mode="markers",
                             marker=dict(color="black", size=size), showlegend=False, hoverinfo="skip"))


def obs_bars(ax, x, mid, lo, hi):
    fig.add_trace(go.Scatter(
        x=x, y=mid, xaxis=ax[0], yaxis=ax[1], mode="markers", marker=dict(color="black", size=9),
        error_y=dict(type="data", symmetric=False, array=[h - m for h, m in zip(hi, mid)],
                     arrayminus=[m - l for m, l in zip(mid, lo)], color="black", thickness=1.6, width=14),
        showlegend=False, hoverinfo="skip"))


def text(s, x, y, size=14, anchor="center", xref="paper"):
    annotations.append(dict(text=s, x=px(x) if xref == "paper" else x, y=py(y), xref=xref, yref="paper",
                            showarrow=False, xanchor=anchor, yanchor="middle",
                            font=dict(size=fs(size), color="black", family=FONT)))


def label_box(x0, x1, y0, y1):
    top_shapes.append(dict(type="rect", xref="paper", yref="paper", x0=px(x0), x1=px(min(x1, RIGHT_LIMIT)),
                           y0=py(y1), y1=py(y0), line=dict(color="black", width=1.4), fillcolor="white",
                           layer="above"))


def key_line(x0, x1, y, color, dash=None, width=3.5):
    line = dict(color=color, width=width)
    if dash:
        line["dash"] = dash
    top_shapes.append(dict(type="line", xref="paper", yref="paper", x0=px(x0), x1=px(x1), y0=py(y), y1=py(y),
                           line=line, layer="above"))


RDASH = "14px,9px"

# ---------------- (A) ----------------
ya_grid = YEAR_TICKS_A
al_top = panel((39, 463, 57, 223), (1912.9, 2020.9), (-41, 1100),
               yticks=([0, 200, 400, 600, 800, 1000], ["0", "", "400", "", "800", ""]), size=16,
               xgrid=ya_grid, ygrid=[200, 400, 600, 800, 1000])
al_bot = panel((39, 463, 223, 389), (1912.9, 2020.9), (-55, 1388),
               xticks=(YEAR_TICKS_A, labels(YEAR_TICKS_A)),
               yticks=([0, 200, 400, 600, 800, 1000, 1200], ["0", "", "400", "", "800", "", "1200"]), size=16,
               xgrid=ya_grid, ygrid=[200, 400, 600, 800, 1000, 1200])
ar_top = panel((492, 915, 57, 223), (1912.9, 2020.9), (-0.065, 1.745),
               yticks=([0, 0.3, 0.6, 0.9, 1.2, 1.5], ["0.0", "", "0.6", "", "1.2", ""]), size=16,
               xgrid=ya_grid, ygrid=[0, 0.5, 1.0, 1.5])
ar_bot = panel((492, 915, 223, 389), (1912.9, 2020.9), (-0.045, 1.144),
               xticks=(YEAR_TICKS_A, labels(YEAR_TICKS_A)),
               yticks=([0, 0.2, 0.4, 0.6, 0.8, 1.0], ["0.0", "", "0.4", "", "0.8", ""]), size=16,
               xgrid=ya_grid, ygrid=[0.2, 0.4, 0.6, 0.8, 1.0])

for ax in (al_top, al_bot):
    trace(ax, ZERO_LINE_YEARS, [0, 0], "#333333", width=1.4, dash="9px,5px,2px,5px")
for ax, sets in ((al_top, (PAR_BSP_RED, PAR_BSP_BLACK, PAR_BSP_BLUE, PAR_BSP_CYAN)),
                 (al_bot, (CAP_BSP_RED, CAP_BSP_BLACK, CAP_BSP_BLUE, CAP_BSP_CYAN)),
                 (ar_top, (PAR_DEP_RED, PAR_DEP_BLACK, PAR_DEP_BLUE, PAR_DEP_CYAN)),
                 (ar_bot, (CAP_DEP_RED, CAP_DEP_BLACK, CAP_DEP_BLUE, CAP_DEP_CYAN))):
    red, blk, blu, cyn = sets
    series(ax, red, RED, width=3, dash=RDASH, smooth=True)
    series(ax, blk, BLACK, width=3, smooth=True)
    series(ax, blu, BLUE, width=3, smooth=True)
    series(ax, cyn, CYAN, width=3, smooth=True)

for yr in DEP_MARK_YEARS:
    below_shapes.append(dict(type="line", xref=ar_top[0], yref="paper", x0=yr, x1=yr, y0=py(389), y1=py(57),
                             line=dict(color="#808080", width=1.6, dash="10px,6px"), layer="above"))

label_box(326, 463, 57, 96)
text("<i>M. paradoxus</i>", 455, 76.5, 19, "right")
label_box(338, 463, 223, 262)
text("<i>M. capensis</i>", 455, 242.5, 19, "right")
label_box(779, 915, 57, 96)
text("<i>M. paradoxus</i>", 908, 76.5, 19, "right")
label_box(790, 915, 223, 262)
text("<i>M. capensis</i>", 908, 242.5, 19, "right")
key_line(728, 760, 369, RED, "10px,7px", 3)
text("Rademeyer model", 773, 369, 16.5, "left")

text("<b>(A) Spawning biomass trajectories</b>", 491.5, 21, TITLE)
text("<b><i>B</i><sup><i>sp</i></sup>  ('000t)</b>", 251, 45, 21)
text("<b><i>B</i><sup><i>sp</i></sup> / <i>K</i><sup><i>sp</i></sup></b>", 704.5, 45, 21)

# ---------------- (B) ----------------
bl_top = panel((945, 1247, 57, 223), (1954.13, 1977.91), (0, 1))
bl_bot = panel((945, 1247, 223, 389), (1954.13, 1977.91), (0, 1),
               xticks=(YEAR_TICKS_HIST, labels(YEAR_TICKS_HIST)), size=15.5)
bm_top = panel((1247, 1549, 57, 223), (1976.57, 2017.56), (0, 1))
bm_bot = panel((1247, 1549, 223, 389), (1976.57, 2017.56), (0, 1),
               xticks=(YEAR_TICKS_OFF, labels(YEAR_TICKS_OFF)), size=15.5)
br_top = panel((1549, 1851, 57, 223), (1976.61, 2017.55), (0, 1))
br_bot = panel((1549, 1851, 223, 389), (1976.61, 2017.55), (0, 1),
               xticks=(YEAR_TICKS_OFF, labels(YEAR_TICKS_OFF)), size=15.5)

points(bl_top, HIST_WC_YEARS, HIST_WC_OBS)
trace(bl_top, HIST_WC_YEARS, HIST_WC_RED, RED, 3, RDASH)
trace(bl_top, HIST_WC_YEARS, HIST_WC_BLACK, BLACK, 3)
trace(bl_top, HIST_WC_YEARS, HIST_WC_BLUE, BLUE, 3)
trace(bl_top, HIST_WC_YEARS, HIST_WC_CYAN, CYAN, 3)
points(bl_bot, HIST_SC_YEARS, HIST_SC_OBS)
trace(bl_bot, HIST_SC_YEARS, HIST_SC_RED, RED, 3, RDASH)
trace(bl_bot, HIST_SC_YEARS, HIST_SC_BLACK, BLACK, 3)
trace(bl_bot, HIST_SC_YEARS, HIST_SC_BLUE, BLUE, 3)
trace(bl_bot, HIST_SC_YEARS, HIST_SC_CYAN, CYAN, 3)
for ax, obs, blk, blu in ((bm_top, WC_PAR_OBS, WC_PAR_BLACK, WC_PAR_BLUE),
                          (bm_bot, SC_PAR_OBS, SC_PAR_BLACK, SC_PAR_BLUE),
                          (br_top, WC_CAP_OBS, WC_CAP_BLACK, WC_CAP_BLUE),
                          (br_bot, SC_CAP_OBS, SC_CAP_BLACK, SC_CAP_BLUE)):
    points(ax, OFF_YEARS, obs)
    trace(ax, OFF_YEARS, blk, BLACK, 3, smooth=True)
    trace(ax, OFF_YEARS, blu, BLUE, 3, smooth=True)

label_box(945, 1067, 184, 223)
text("West Coast", 1017, 203.5, 16.5)
label_box(945, 1073, 350, 389)
text("South Coast", 1020, 369.5, 16.5)
label_box(1247, 1488, 184, 223)
text("West Coast (<i>M. paradoxus</i>)", 1378, 203.5, 16.5)
label_box(1247, 1494, 350, 389)
text("South Coast (<i>M. paradoxus</i>)", 1381, 369.5, 16.5)
label_box(1549, 1778, 184, 223)
text("West Coast (<i>M. capensis</i>)", 1674, 203.5, 16.5)
label_box(1549, 1784, 350, 389)
text("South Coast (<i>M. capensis</i>)", 1677, 369.5, 16.5)
key_line(1059, 1092, 77, RED, "10px,7px", 3)
text("Rademeyer model", 1106, 77, 16.5, "left")

text("<b>(B) Fits to CPUE data</b>", 1397, 21, TITLE)
text("<b>Historical CPUE (ICSEAF)</b>", 1096, 48, SUBTITLE)
text("<b>Offshore CPUE</b>", 1398, 48, SUBTITLE)
text("<b>Offshore CPUE</b>", 1700, 48, SUBTITLE)

# ---------------- (C) ----------------
c_xt = ([0, 5, 10, 15], ["0", "5", "10", "15"])
c_yt = ([0, 0.2, 0.4, 0.6, 0.8, 1.0], ["0.0", "", "0.4", "", "0.8", ""])
ci1 = panel((59, 473, 454, 621), (-0.6, 15.6), (-0.038, 1.011), c_xt, c_yt, size=15,
            xgrid=[0, 5, 10, 15], ygrid=[0, 0.2, 0.4, 0.6, 0.8])
ci2 = panel((482, 925, 454, 621), (-1.76, 15.6), (-0.038, 1.011), c_xt, c_yt, y_at=511.7, size=15,
            xgrid=[0, 5, 10, 15], ygrid=[0, 0.2, 0.4, 0.6, 0.8])
cii1 = panel((965, 1383, 454, 621), (-0.59, 15.79), (-0.039, 1.05), c_xt, c_yt, size=15,
             xgrid=[0, 5, 10, 15], ygrid=[0, 0.2, 0.4, 0.6, 0.8, 1.0])
cii2 = panel((1415, 1832, 454, 621), (-0.66, 15.63), (-0.039, 1.05), c_xt, c_yt, size=15,
             xgrid=[0, 5, 10, 15], ygrid=[0, 0.2, 0.4, 0.6, 0.8, 1.0])
for ax, blu, cyn in ((ci1, MEQ_PAR_BLUE, MEQ_PAR_CYAN), (ci2, MEQ_CAP_BLUE, MEQ_CAP_CYAN),
                     (cii1, MAV_PAR_BLUE, MAV_PAR_CYAN), (cii2, MAV_CAP_BLUE, MAV_CAP_CYAN)):
    trace(ax, M_AGES, M_RADEMEYER, RED, 3, "12px,8px", smooth=True)
    trace(ax, M_AGES, blu, BLUE, 3, mode="lines+markers", msize=7)
    trace(ax, M_AGES, cyn, CYAN, 3, mode="lines+markers", msize=7)

label_box(336, 473, 454, 494)
text("M. paradoxus", 414.6, 474, 15.5)
label_box(801, 925, 454, 494)
text("M. capensis", 864, 474, 15.5)
label_box(1241, 1383, 454, 494)
text("M. paradoxus", 1320.7, 474, 15.5)
label_box(1705, 1832, 454, 494)
text("M. capensis", 1778, 474, 15.5)
text("<b>(C)(i) Natural mortality at equilibrium</b>", 492, 439, TITLE)
text("<b>(C)(ii) Natural mortality averaged over 1984–2017</b>", 1398, 438, TITLE)

# ---------------- (D) ----------------
d_xt = (RATION_AGES, labels(RATION_AGES, 2))
d_yt = ([0, 1, 2, 3, 4], ["0", "1", "2", "3", "4"])
d1 = panel((39, 372, 677, 844), (0.41, 15.55), (-0.186, 4.077), d_xt, d_yt,
           xgrid=[2, 4, 6, 8, 10, 12, 14], ygrid=[0, 1, 2, 3, 4])
d2 = panel((377, 735, 677, 844), (-0.626, 15.54), (-0.186, 4.077), d_xt, d_yt, y_at=400.6,
           xgrid=[2, 4, 6, 8, 10, 12, 14], ygrid=[0, 1, 2, 3, 4])
for ax, blu, cyn in ((d1, RATION_PAR_BLUE, RATION_PAR_CYAN), (d2, RATION_CAP_BLUE, RATION_CAP_CYAN)):
    below_shapes.append(dict(type="line", xref=ax[0] + " domain", yref=ax[1], x0=0, x1=1, y0=RATION_REF,
                             y1=RATION_REF, line=dict(color="#8C8C8C", width=2, dash="9px,6px"), layer="below"))
    trace(ax, RATION_AGES, blu, BLUE, 3.5, smooth=True)
    trace(ax, RATION_AGES, cyn, CYAN, 3.5, smooth=True)
text("<i>M. paradoxus</i>", 366, 696, 16, "right")
text("<i>M. capensis</i>", 727, 696, 16, "right")
text("Age", 205.5, 880, 20)
text("Age", 568.7, 880, 20)
text("<b>(D) Daily ration as a % of body mass (model output)</b>", 402, 665, TITLE)

# ---------------- (E) ----------------
e_xt = (LEN_TICKS, [""] * len(LEN_TICKS))
e_grid_x = [0, 20, 40, 60, 100, 120]
e1 = panel((794, 1127, 676, 843), (-4.69, 125.0), (-0.042, 1.078), e_xt,
           ([0, 0.2, 0.4, 0.6, 0.8, 1.0], ["0.0", "", "0.4", "", "0.8", ""]),
           xgrid=e_grid_x, ygrid=[0, 0.2, 0.4, 0.6, 0.8, 1.0])
e2 = panel((1127, 1485, 676, 843), (-15.8, 124.1), (-0.0129, 0.3286), e_xt,
           ([0, 0.05, 0.1, 0.15, 0.2, 0.25, 0.3], ["0.00", "", "0.10", "", "0.20", "", "0.30"]), y_at=1157,
           xgrid=e_grid_x, ygrid=[0, 0.05, 0.1, 0.15, 0.2, 0.25, 0.3])
e3 = panel((1489, 1848, 676, 843), (-16.2, 124.1), (-0.036, 0.918), e_xt,
           ([0, 0.2, 0.4, 0.6, 0.8], ["0.0", "0.2", "0.4", "0.6", "0.8"]), y_at=1521,
           xgrid=e_grid_x, ygrid=[0, 0.2, 0.4, 0.6, 0.8])

EDASH = "6px,4px"
trace(e1, E1_PRE_X, E1_PRE, CYAN, 1.6, EDASH)
trace(e1, E1_BLUE_POST_X, E1_BLUE_POST, BLUE, 1.6, EDASH, smooth=True)
trace(e1, E1_CYAN_POST_X, E1_CYAN_POST, CYAN, 1.6, EDASH, smooth=True)
trace(e1, LEN_GROUP_MID, E1_BLUE, BLUE, 4)
trace(e1, LEN_GROUP_MID, E1_CYAN, CYAN, 4)
obs_bars(e1, LEN_GROUP_MID, E1_OBS, E1_LO, E1_HI)

trace(e2, E2_PRE_X, E2_BLUE_PRE, BLUE, 1.6, EDASH)
trace(e2, E2_PRE_X, E2_CYAN_PRE, CYAN, 1.6, EDASH)
trace(e2, E2_POST_X, E2_BLUE_POST, BLUE, 1.6, EDASH, smooth=True)
trace(e2, E2_POST_X, E2_CYAN_POST, CYAN, 1.6, EDASH, smooth=True)
trace(e2, LEN_GROUP_MID, E2_BLUE, BLUE, 4)
trace(e2, LEN_GROUP_MID, E2_CYAN, CYAN, 4)
obs_bars(e2, LEN_GROUP_MID, E2_OBS, E2_LO, E2_HI)

trace(e3, E3_PRE_X, E3_PRE, CYAN, 1.6, EDASH)
trace(e3, E3_POST_X, E3_BLUE_POST, BLUE, 1.6, EDASH, smooth=True)
trace(e3, E3_POST_X, E3_CYAN_POST, CYAN, 1.6, EDASH, smooth=True)
trace(e3, LEN_GROUP_MID, E3_BLUE, BLUE, 4)
trace(e3, LEN_GROUP_MID, E3_CYAN, CYAN, 4)
obs_bars(e3, LEN_GROUP_MID, E3_OBS, E3_LO, E3_HI)

for ax in (e1, e2, e3):
    below_shapes.append(dict(type="line", xref=ax[0], yref=ax[1] + " domain", x0=LEN_CUTOFF, x1=LEN_CUTOFF,
                             y0=0, y1=1, line=dict(color="black", width=1.2, dash="7px,3px,2px,3px"),
                             layer="below"))
    for pos, lab in zip(LEN_LABEL_POS, LEN_LABELS):
        text(lab, pos, 863, 14.5, "center", xref=ax[0])

text("<i>M. paradoxus</i> on <i>M. paradoxus</i>", 825, 695, 16.5, "left")
text("<i>M. capensis</i> on <i>M. capensis</i>", 1185, 697, 16.5, "left")
text("<i>M. capensis</i> on <i>M. paradoxus</i>", 1548, 697, 16.5, "left")
text("Predator length group (cm)", 1321, 887, 20.5)
text("<b>(E) Fit to proportion of hake in the diet of hake predators</b>", 1316, 663, 25.5)

# ---------------- (F) ----------------
f_ticks = [0.0, 0.1, 0.2, 0.3, 0.4, 0.5, 0.6, 0.7, 0.8, 0.9, 1.0]
f_xt = (f_ticks, labels(f_ticks, 2, "{:.1f}"))
f1 = panel((38, 301, 929, 1055), (-0.04, 1.045), (-0.0042, 0.1269), f_xt,
           ([0, 0.02, 0.04, 0.06, 0.08, 0.1, 0.12], ["0.00", "", "", "0.06", "", "", "0.12"]))
f23_yt = ([0, 0.01, 0.02, 0.03, 0.04, 0.05], ["0.00", "", "0.02", "", "0.04", ""])
f2 = panel((341, 604, 929, 1055), (-0.04, 1.04), (-0.0021, 0.0599), f_xt, f23_yt)
f3 = panel((642, 907, 929, 1055), (-0.04, 1.045), (-0.0021, 0.0599), f_xt, f23_yt)
for ax, blu, cyn in ((f1, PREF1_BLUE, PREF1_CYAN), (f2, PREF2_BLUE, PREF2_CYAN), (f3, PREF3_BLUE, PREF3_CYAN)):
    trace(ax, PREF_X, blu, BLUE, 3.5)
    trace(ax, PREF_X, cyn, CYAN, 3.5)
text("M.par predators, M.par prey", 295, 951, 17, "right")
text("M.cap predators, M.cap prey", 597, 950, 17, "right")
text("M.cap predators, M.par prey", 899, 951, 17, "right")
text("Prey length / predator length", 471.5, 1097, 20.5)
text("<b>(F) Preference function (model output)</b>", 491, 912, TITLE)

# ---------------- (G) ----------------
ROWS_G = [985, 1002.7, 1019.3, 1036.7]
text("<b>(G)(i) Bsp(last_yr)/Ksp</b>", 1075.5, 915, 17)
label_box(945, 1207, 929, 1056)
text("M. paradoxus", 998, 962, 16.5)
text("M. capensis", 1158, 962, 16.5)
for i, yv in enumerate(ROWS_G):
    key_line(962, 994, yv, MODEL_COLORS[i], MODEL_DASH[i])
    text(G1_PAR[i], 1008, yv, 17, "left")
    key_line(1123, 1154, yv, MODEL_COLORS[i], MODEL_DASH[i])
    text(G1_CAP[i], 1167, yv, 17, "left")

text("<b>(G)(ii) Bsp/max(Bsp)</b>", 1318, 915, 17)
label_box(1247, 1389, 929, 1056)
text("M. paradoxus", 1317, 962, 16.5)
for i, yv in enumerate(ROWS_G):
    key_line(1282, 1314, yv, MODEL_COLORS[i], MODEL_DASH[i])
    text(G2_PAR[i], 1327, yv, 17, "left")

ROWS_KEY = [961.7, 985, 1009.3, 1033.3]
label_box(1432, 1811, 938, 1056)
for i, yv in enumerate(ROWS_KEY):
    key_line(1449, 1487, yv, MODEL_COLORS[i], "10px,8px" if MODEL_DASH[i] else None)
    text(MODEL_NAMES[i], 1503, yv, 21, "left")

fig.update_layout(
    width=FW, height=FH, margin=dict(l=0, r=0, t=0, b=0), autosize=False,
    paper_bgcolor="white", plot_bgcolor="white", showlegend=False,
    font=dict(family=FONT, color="black"),
    shapes=below_shapes + frame_shapes + top_shapes,
    annotations=annotations,
    **axes_layout,
)

fig.write_html("out.html", config={"displayModeBar": False})
